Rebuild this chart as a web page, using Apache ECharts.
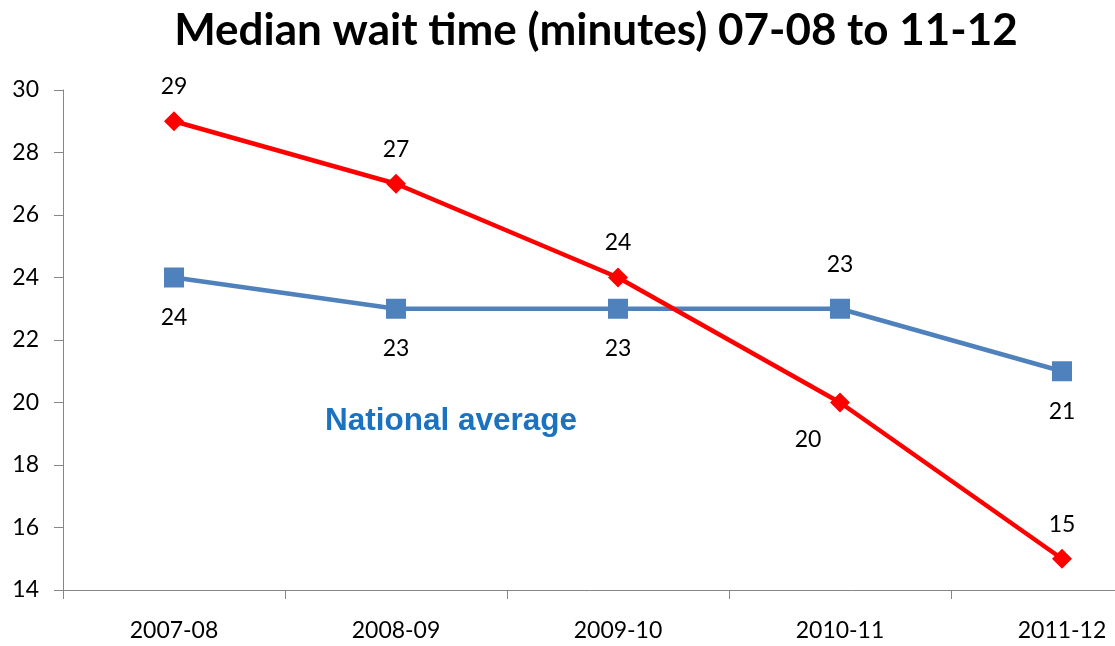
<!DOCTYPE html>
<html>
<head>
<meta charset="utf-8">
<script src="https://cdn.jsdelivr.net/npm/echarts@6/dist/echarts.min.js"></script>
<style>
    html, body { margin: 0; padding: 0; background: #fff; }
    #main { width: 1115px; height: 646px; }
</style>
</head>
<body>
<div id="main"></div>
<script type="text/javascript">
    var years = ['2007-08', '2008-09', '2009-10', '2010-11', '2011-12'];
    var localWait = [29, 27, 24, 20, 15];
    var nationalWait = [24, 23, 23, 23, 21];

    var font = 'Lato, "Open Sans", sans-serif';
    var myChart = echarts.init(document.getElementById('main'));

    // label placement per point (positions only)
    var redOffsets = [[0, -5], [0, -5], [0, -5], [-32, 67], [0, -5]];
    var blueOffsets = [[0, 40], [0, 40], [0, 40], [0, -44], [0, 40]];

    var option = {
        animation: false,
        title: {
            text: 'Median wait time (minutes) 07-08 to 11-12',
            left: 591,
            top: 4,
            textAlign: 'center',
            textStyle: { fontFamily: font, fontSize: 44, fontWeight: 'bold', color: '#000' }
        },
        grid: { left: 63, top: 90, width: 1110, height: 500, outerBoundsMode: 'none', containLabel: false },
        xAxis: {
            type: 'category',
            data: years,
            boundaryGap: true,
            axisLine: { lineStyle: { color: '#868686', width: 1 } },
            axisTick: { show: true, length: 9, lineStyle: { color: '#868686' } },
            axisLabel: { fontFamily: font, fontSize: 23, color: '#000', margin: 29 },
            splitLine: { show: false }
        },
        yAxis: {
            type: 'value',
            min: 14,
            max: 30,
            interval: 2,
            axisLine: { show: true, lineStyle: { color: '#868686', width: 1 } },
            axisTick: { show: true, length: 9, lineStyle: { color: '#868686' } },
            axisLabel: { fontFamily: font, fontSize: 23, color: '#000', margin: 24 },
            splitLine: { show: false }
        },
        series: [{
            name: 'National average',
            type: 'line',
            data: nationalWait.map(function (v, i) {
                return { value: v, label: { offset: blueOffsets[i] } };
            }),
            symbol: 'rect',
            symbolSize: 20,
            lineStyle: { color: '#4F81BD', width: 4.5 },
            itemStyle: { color: '#4F81BD' },
            label: { show: true, position: 'inside', fontFamily: font, fontSize: 23, color: '#000' }
        }, {
            name: 'Local',
            type: 'line',
            data: localWait.map(function (v, i) {
                return { value: v, label: { offset: redOffsets[i] } };
            }),
            symbol: 'diamond',
            symbolSize: 20,
            lineStyle: { color: '#FF0000', width: 4.5 },
            itemStyle: { color: '#FF0000' },
            label: { show: true, position: 'top', distance: 8, fontFamily: font, fontSize: 23, color: '#000' }
        }],
        graphic: [{
            type: 'text',
            x: 325,
            y: 421,
            style: {
                text: 'National average',
                fontFamily: '"Liberation Sans", Arial, sans-serif',
                fontSize: 31.5,
                fontWeight: 'bold',
                fill: '#1B72C0',
                verticalAlign: 'middle'
            }
        }]
    };
    myChart.setOption(option);
</script>
</body>
</html>
